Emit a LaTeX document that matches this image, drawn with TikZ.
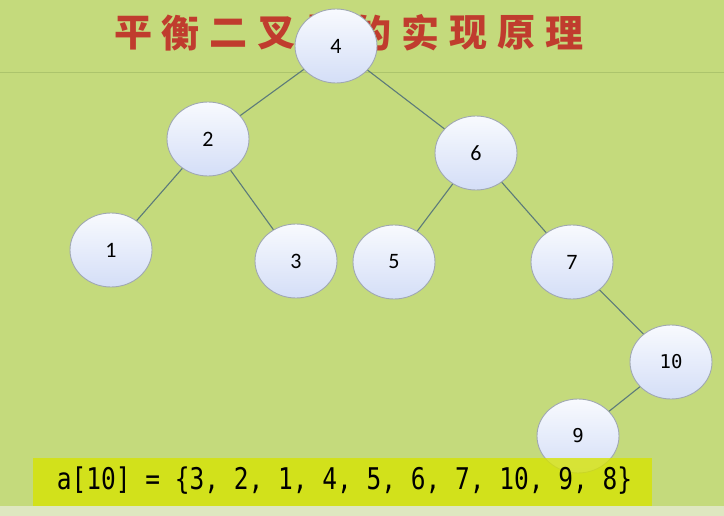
\documentclass[tikz,border=0pt]{standalone}
\usepackage{fontspec}
\usetikzlibrary{shapes.geometric}
\newfontfamily\lblfont{Carlito}
\newfontfamily\codefont{DejaVu Sans Mono}
\newfontfamily\cjkfont{Noto Sans CJK SC}
\definecolor{bggreen}{RGB}{196,218,124}
\definecolor{bandpale}{RGB}{222,231,192}
\definecolor{rulegreen}{RGB}{172,196,108}
\definecolor{titlered}{RGB}{192,60,46}
\definecolor{edgegray}{RGB}{92,122,122}
\definecolor{nodetop}{RGB}{248,250,254}
\definecolor{nodebot}{RGB}{212,222,247}
\definecolor{nodeline}{RGB}{160,168,178}
\definecolor{barfill}{RGB}{215,228,0}
\tikzset{
  treenode/.style={shape=ellipse, minimum width=82pt, minimum height=74pt,
    inner sep=0pt, draw=nodeline, line width=0.9pt,
    top color=nodetop, bottom color=nodebot, text=black,
    font=\lblfont\fontsize{22}{22}\selectfont},
  mononode/.style={treenode, font=\codefont\fontsize{19}{19}\selectfont},
  link/.style={draw=edgegray, line width=1.1pt},
  titlechar/.style={text=titlered, font=\cjkfont\bfseries\fontsize{38}{38}\selectfont, inner sep=0pt}
}
\begin{document}
\begin{tikzpicture}[x=1pt,y=-1pt]
  % canvas
  \useasboundingbox (0,0) rectangle (724,516);
  \fill[bggreen] (0,0) rectangle (724,516);
  \fill[bandpale] (0,506) rectangle (724,516);
  \draw[rulegreen, line width=0.7pt] (0,72) -- (724,72);

  % heading, one glyph per slot
  \foreach \ch [count=\i from 0] in {平,衡,二,叉,树,的,实,现,原,理}
    \node[titlechar] (t\i) at ({133+47.9*\i},33) {\ch};

  % tree nodes
  \node[treenode] (n4) at (336,46) {4};
  \node[treenode] (n2) at (208,139) {2};
  \node[treenode] (n6) at (476,153) {6};
  \node[treenode] (n1) at (111,250) {1};
  \node[treenode] (n3) at (296,261) {3};
  \node[treenode] (n5) at (394,262) {5};
  \node[treenode] (n7) at (572,262) {7};
  \node[mononode] (n10) at (671,362) {10};
  \node[mononode] (n9) at (578,436) {9};

  % connectors
  \draw[link] (n4) -- (n2);
  \draw[link] (n4) -- (n6);
  \draw[link] (n2) -- (n1);
  \draw[link] (n2) -- (n3);
  \draw[link] (n6) -- (n5);
  \draw[link] (n6) -- (n7);
  \draw[link] (n7) -- (n10);
  \draw[link] (n10) -- (n9);

  % array bar, slightly see-through over node 9
  \fill[barfill, fill opacity=0.78] (33,458) rectangle (652,506);
  \node[inner sep=0pt] (arr) at (344.5,481)
    {\scalebox{1}[1.22]{\codefont\fontsize{24.5}{24.5}\selectfont a[10] = \{3, 2, 1, 4, 5, 6, 7, 10, 9, 8\}}};
\end{tikzpicture}
\end{document}
